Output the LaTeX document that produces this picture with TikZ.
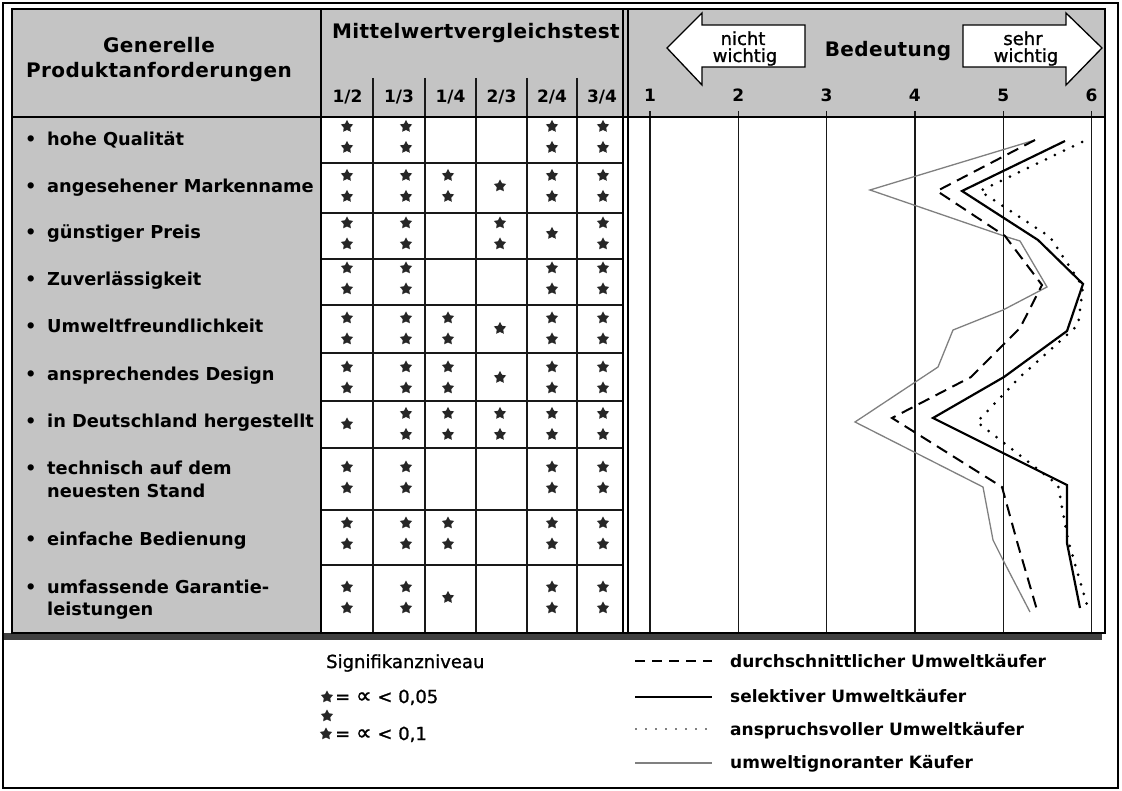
\documentclass[tikz,border=0pt]{standalone}
\usepackage{fontspec}
\setmainfont{DejaVu Sans}
\newfontfamily\headfont[LetterSpace=2]{DejaVu Sans}
\newfontfamily\medfont[FakeBold=1.2]{DejaVu Sans}
\usetikzlibrary{shapes.geometric}

\tikzset{
  panel/.style={fill=black!23},
  frame/.style={line width=2pt, draw=black},
  cellline/.style={line width=1.4pt, draw=black!90},
  gridline/.style={line width=1.4pt, draw=black!90},
  arrowbox/.style={fill=white, draw=black, line width=1.3pt, line join=miter},
  sigstar/.style={star, star points=5, star point ratio=1.9, minimum size=13pt,
    inner sep=0pt, fill=black!85, draw=none},
  headtxt/.style={font=\headfont\bfseries\fontsize{20}{22}\selectfont, inner sep=0pt, anchor=base},
  collab/.style={font=\bfseries\fontsize{17}{20}\selectfont, inner sep=0pt, anchor=base},
  scalenum/.style={font=\bfseries\fontsize{17}{20}\selectfont, inner sep=0pt, anchor=base},
  rowtxt/.style={font=\bfseries\fontsize{17.8}{21}\selectfont, inner sep=0pt, anchor=base west},
  arrowtxt/.style={font=\medfont\fontsize{18}{20}\selectfont, inner sep=0pt, anchor=base},
  legleft/.style={font=\medfont\fontsize{18}{20}\selectfont, inner sep=0pt, anchor=base west},
  legright/.style={font=\bfseries\fontsize{17}{20}\selectfont, inner sep=0pt, anchor=base west},
  avg/.style={line width=2pt, dash pattern=on 12pt off 7pt},
  sel/.style={line width=2.2pt, line join=miter},
  dem/.style={line width=3pt, line cap=round, dash pattern=on 0pt off 10pt},
  ign/.style={line width=1.3pt, draw=black!50},
}

\begin{document}
\begin{tikzpicture}[x=1pt,y=-1pt]
\fill[white] (0,0) rectangle (1122,791);
\useasboundingbox (0,0) rectangle (1122,791);

% shaded header band and requirement column
\fill[panel] (12,9) rectangle (1105,117);
\fill[panel] (12,117) rectangle (321,633);
% drop shadow under the table
\fill[black!75] (3,633) rectangle (1102,640);

% outer frame
\draw[line width=1.2pt] (3,3) rectangle (1118,788);

% rating scale gridlines and numbers
\foreach \v in {1,...,6}{
  \draw[gridline] ({650+(\v-1)*88.3},111) -- ({650+(\v-1)*88.3},633);
  \node[scalenum] (num\v) at ({650+(\v-1)*88.3},102) {\v};
}

% significance table grid
\foreach \xv in {373,425,476,527,577} \draw[cellline] (\xv,78) -- (\xv,633);
\foreach \yv in {163,213,259,305,353,401,448,510,565} \draw[cellline] (321,\yv) -- (622.5,\yv);

% main frame
\draw[frame] (12,9) rectangle (1105,633);
\draw[frame] (12,117) -- (1105,117);
\draw[frame] (321,9) -- (321,633);
\draw[frame] (622.5,9) -- (622.5,633);
\draw[frame] (628,9) -- (628,633);

% importance arrows
\draw[arrowbox] (667,48) -- (702,13) -- (702,25) -- (805,25) -- (805,67)
  -- (702,67) -- (702,85) -- cycle;
\draw[arrowbox] (1102,48) -- (1066,13) -- (1066,25) -- (963,25) -- (963,67)
  -- (1066,67) -- (1066,85) -- cycle;
\node[arrowtxt] (nicht) at (743,45) {nicht};
\node[arrowtxt] (nichtw) at (745,62) {wichtig};
\node[arrowtxt] (sehr) at (1023,45) {sehr};
\node[arrowtxt] (sehrw) at (1026,62) {wichtig};

% headings
\node[headtxt] (gen1) at (159,53) {Generelle};
\node[headtxt] (gen2) at (159,78) {Produktanforderungen};
\node[headtxt] (mwt) at (476,39) {Mittelwertvergleichstest};
\node[headtxt] (bed) at (888,57) {Bedeutung};

% pair labels
\node[collab] (c12) at (347.5,103) {1/2};
\node[collab] (c13) at (399,103) {1/3};
\node[collab] (c14) at (450.5,103) {1/4};
\node[collab] (c23) at (501.5,103) {2/3};
\node[collab] (c24) at (552,103) {2/4};
\node[collab] (c34) at (602,103) {3/4};

% requirement labels
\foreach \rr/\yb/\txt in {
  1/146/hohe Qualität,
  2/193/angesehener Markenname,
  3/239/günstiger Preis,
  4/286/Zuverlässigkeit,
  5/333/Umweltfreundlichkeit,
  6/381/ansprechendes Design,
  7/428/in Deutschland hergestellt,
  8/474/technisch auf dem,
  9/545/einfache Bedienung,
  10/593/umfassende Garantie-}{
  \node[rowtxt] (lab\rr) at (25,\yb) {\makebox[22pt][l]{•}\txt};
}
\node[rowtxt] (lab8b) at (47,497) {neuesten Stand};
\node[rowtxt] (lab10b) at (47,615) {leistungen};

% significance marks: 2 = two stars, 1 = one star, 0 = none
\foreach \rr/\yc/\pat in {
  1/137/{2,2,0,0,2,2},
  2/186/{2,2,2,1,2,2},
  3/233.5/{2,2,0,2,1,2},
  4/278.5/{2,2,0,0,2,2},
  5/328.5/{2,2,2,1,2,2},
  6/377.5/{2,2,2,1,2,2},
  7/424/{1,2,2,2,2,2},
  8/477.5/{2,2,0,0,2,2},
  9/533.5/{2,2,2,0,2,2},
  10/597.5/{2,2,1,0,2,2}}{
  \foreach \nn [count=\cc] in \pat {
    \pgfmathsetmacro\xc{{347,406,448,500,552,603}[\cc-1]}
    \ifnum\nn=2
      \node[sigstar] (s\rr-\cc-a) at (\xc,\yc-10.5) {};
      \node[sigstar] (s\rr-\cc-b) at (\xc,\yc+10.5) {};
    \fi
    \ifnum\nn=1
      \node[sigstar] (s\rr-\cc) at (\xc,\yc) {};
    \fi
  }
}

% profiles of the four buyer groups
\draw[ign] (1035,140) -- (870,190) -- (1007,237) -- (1020,241) -- (1047,287)
  -- (1003,310) -- (953,330) -- (938,367) -- (855,422) -- (983,487)
  -- (993,540) -- (1003,560) -- (1030,612);
\draw[avg] (1035,140) -- (937,191) -- (1005,236) -- (1042,285) -- (1020,328)
  -- (971,377) -- (892,418) -- (1002,487) -- (1018,545) -- (1037,610);
\draw[sel] (1065,141) -- (962,191) -- (1038,240) -- (1083,284) -- (1067,331)
  -- (1004,377) -- (933,418) -- (1067,485) -- (1067,543) -- (1080,608);
\draw[dem] (1082,142) -- (980,191) -- (1050,237) -- (1083,287) -- (1078,325)
  -- (1020,377) -- (977,422) -- (1058,485) -- (1068,540) -- (1087,605);

% legend: significance levels
\node[legleft] (signif) at (326,668) {Signifikanzniveau};
\node[sigstar] (lg-a) at (327,697) {};
\node[sigstar] (lg-b) at (327,716) {};
\node[legleft] (sig05) at (335,703) {= {\fontsize{22}{22}\selectfont ∝} < 0,05};
\node[sigstar] (lg-c) at (326,734) {};
\node[legleft] (sig10) at (335,740) {= {\fontsize{22}{22}\selectfont ∝} < 0,1};

% legend: buyer groups
\coordinate (la1) at (635,661); \coordinate (lb1) at (712,661);
\coordinate (la2) at (635,697); \coordinate (lb2) at (712,697);
\coordinate (la3) at (636,729); \coordinate (lb3) at (712,729);
\coordinate (la4) at (635,763); \coordinate (lb4) at (712,763);
\draw[avg, line width=1.4pt, dash pattern=on 10pt off 7pt] (la1) -- (lb1);
\draw[sel] (la2) -- (lb2);
\draw[dem, line width=1.8pt] (la3) -- (lb3);
\draw[ign] (la4) -- (lb4);
\node[legright] (leg1) at (730,667) {durchschnittlicher Umweltkäufer};
\node[legright] (leg2) at (730,702) {selektiver Umweltkäufer};
\node[legright] (leg3) at (730,735) {anspruchsvoller Umweltkäufer};
\node[legright] (leg4) at (730,768) {umweltignoranter Käufer};
\end{tikzpicture}
\end{document}
